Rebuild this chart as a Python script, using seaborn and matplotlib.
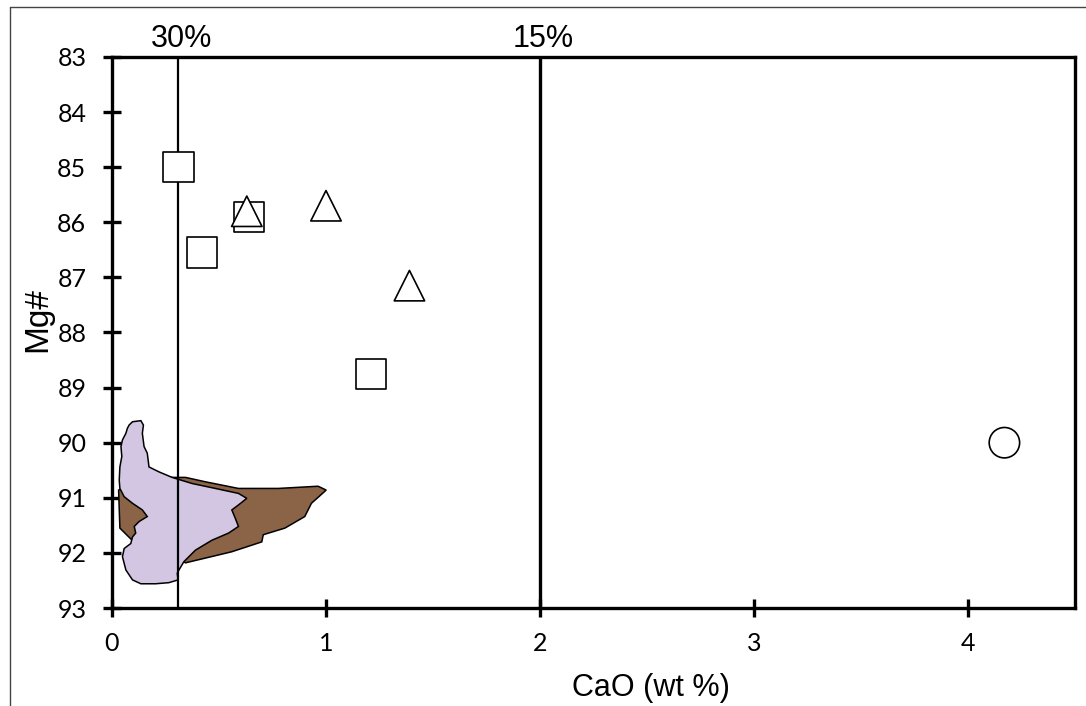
import matplotlib
matplotlib.use("Agg")
import matplotlib.pyplot as plt
import seaborn as sns
import pandas as pd
from matplotlib.lines import Line2D

# ---- data ----
square_cao = [0.31, 0.64, 0.42, 1.21]
square_mg = [85.0, 85.9, 86.55, 88.75]
tri_cao = [0.63, 1.00, 1.39]
tri_mg = [85.8, 85.7, 87.15]
circle_cao = [4.17]
circle_mg = [90.0]

brown_cao = [0.031, 0.037, 0.094, 0.344, 0.559, 0.700, 0.707, 0.808, 0.901, 0.932,
             1.001, 0.963, 0.777, 0.591, 0.437, 0.344, 0.251, 0.127]
brown_mg = [90.86, 91.55, 91.77, 92.18, 91.98, 91.80, 91.67, 91.55, 91.34, 91.10,
            90.86, 90.79, 90.83, 90.83, 90.71, 90.63, 90.63, 90.68]

lav_cao = [0.080, 0.096, 0.135, 0.147, 0.142, 0.150, 0.165, 0.173, 0.220, 0.281,
           0.374, 0.483, 0.591, 0.630, 0.591, 0.560, 0.576, 0.591, 0.545, 0.467,
           0.390, 0.336, 0.313, 0.305, 0.309, 0.266, 0.204, 0.135, 0.096, 0.065,
           0.049, 0.057, 0.088, 0.096, 0.111, 0.104, 0.127, 0.165, 0.142, 0.096,
           0.057, 0.037, 0.034, 0.037, 0.046, 0.042, 0.049, 0.065, 0.072]
lav_mg = [89.68, 89.62, 89.60, 89.68, 89.83, 90.07, 90.19, 90.44, 90.53, 90.63,
          90.74, 90.83, 90.92, 91.01, 91.13, 91.22, 91.37, 91.52, 91.64, 91.77,
          91.95, 92.16, 92.31, 92.37, 92.49, 92.54, 92.56, 92.56, 92.49, 92.31,
          92.07, 91.92, 91.83, 91.71, 91.64, 91.52, 91.43, 91.34, 91.22, 91.10,
          90.98, 90.83, 90.68, 90.44, 90.25, 90.07, 89.95, 89.83, 89.74]

melt_lines = [0.31, 2.0]
melt_labels = ["30%", "15%"]
x_ticks = [0, 1, 2, 3, 4]
y_ticks = [83, 84, 85, 86, 87, 88, 89, 90, 91, 92, 93]

# ---- plot ----
sns.set_theme(style="white")
plt.rcParams['font.family'] = ['Liberation Sans', 'DejaVu Sans']

fig = plt.figure(figsize=(10.86, 7.06), dpi=100)
ax = fig.add_axes([0.1031, 0.1388, 0.8868, 0.7805])

ax.fill(brown_cao, brown_mg, facecolor="#8B6347", edgecolor="black", linewidth=1.1, zorder=2)
ax.fill(lav_cao, lav_mg, facecolor="#D3C6E2", edgecolor="black", linewidth=1.1, zorder=3)

ax.axvline(melt_lines[0], color="black", linewidth=1.6, zorder=4)
ax.axvline(melt_lines[1], color="black", linewidth=2.4, zorder=4)

df = pd.DataFrame({
    "CaO": square_cao + tri_cao + circle_cao,
    "Mg": square_mg + tri_mg + circle_mg,
    "kind": ["sq"] * len(square_cao) + ["tri"] * len(tri_cao) + ["ci"] * len(circle_cao),
})
sns.scatterplot(data=df, x="CaO", y="Mg", style="kind",
                markers={"sq": "s", "tri": "^", "ci": "o"},
                s=480, facecolor="white", edgecolor="black", linewidth=1.2,
                legend=False, ax=ax, zorder=5)

ax.set_xlim(0, 4.5)
ax.set_ylim(93, 83)
ax.set_xticks(x_ticks)
ax.set_yticks(y_ticks)
ax.tick_params(axis="both", direction="inout", length=13, width=2.4, color="black",
               labelsize=18, labelcolor="black", bottom=True, left=True)
ax.tick_params(axis="x", pad=11)
ax.tick_params(axis="y", pad=12)
for lab in ax.get_xticklabels() + ax.get_yticklabels():
    lab.set_family(['Lato', 'DejaVu Sans'])
for sp in ax.spines.values():
    sp.set_visible(True)
    sp.set_color("black")
    sp.set_linewidth(2.4)

ax.set_xlabel("CaO (wt %)", fontsize=22, color="black")
ax.xaxis.set_label_coords(0.56, -0.118)
ax.set_ylabel("Mg#", fontsize=24, color="black")
ax.yaxis.set_label_coords(-0.061, 0.523)

for xv, lab in zip(melt_lines, melt_labels):
    ax.text(xv + 0.015, 1.006, lab, transform=ax.get_xaxis_transform(),
            ha="center", va="bottom", fontsize=22, color="black")

# outer frame
fig.add_artist(Line2D([10 / 1086, 10 / 1086], [0, 1 - 7 / 706], transform=fig.transFigure,
                      color="#444444", linewidth=1.0))
fig.add_artist(Line2D([10 / 1086, 1], [1 - 7 / 706, 1 - 7 / 706], transform=fig.transFigure,
                      color="#444444", linewidth=1.0))

fig.savefig("out.png", dpi=100)
